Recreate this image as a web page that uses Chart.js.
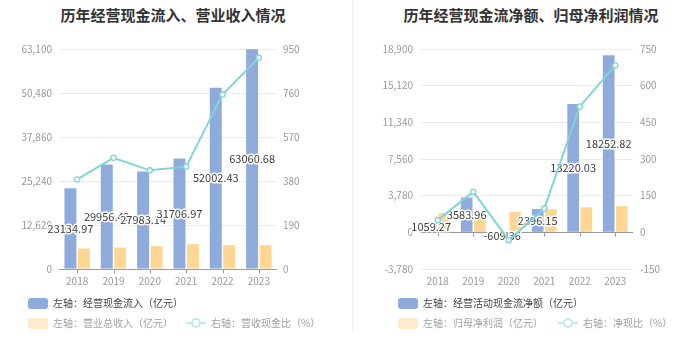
<!DOCTYPE html>
<html><head><meta charset="utf-8">
<script src="https://cdn.jsdelivr.net/npm/chart.js@4.4.1/dist/chart.umd.min.js"></script>
<style>
body{margin:0;width:700px;height:360px;background:#fff;position:relative;overflow:hidden;font-family:"Noto Sans CJK SC",sans-serif;}
.title{position:absolute;top:5px;font-size:15px;font-weight:bold;color:#333;text-align:center;white-space:nowrap;line-height:20px;}
canvas{position:absolute;top:0;}
.sep{position:absolute;left:352px;top:0;width:1px;height:333px;background:#eee;}
.lg{position:absolute;font-size:10px;line-height:12px;height:12px;white-space:nowrap;display:flex;align-items:center;}
.sw{display:inline-block;width:20px;height:11px;border-radius:3px;margin-right:5px;}
.ls{display:inline-block;width:20px;height:12px;margin-right:5px;}
</style>
</head><body>
<div class="title" style="left:0;width:346px;">历年经营现金流入、营业收入情况</div>
<div class="title" style="left:356px;width:350px;">历年经营现金流净额、归母净利润情况</div>
<div class="sep"></div>
<canvas id="c1" width="352" height="300" style="left:0"></canvas>
<canvas id="c2" width="348" height="300" style="left:352px"></canvas>

<div class="lg" style="left:28px;top:297px;color:#444"><span class="sw" style="background:#8eabdb"></span>左轴：经营现金流入（亿元）</div>
<div class="lg" style="left:28px;top:317px;color:#a0a0a0"><span class="sw" style="background:#feebcd"></span>左轴：营业总收入（亿元）
 <svg class="ls" style="margin-left:13px" width="20" height="12"><line x1="0" y1="6" x2="20" y2="6" stroke="#bfe9eb" stroke-width="2"/><circle cx="10" cy="6" r="4" fill="#fff" stroke="#bfe9eb" stroke-width="2"/></svg>右轴：营收现金比（%）</div>

<div class="lg" style="left:398px;top:297px;color:#444"><span class="sw" style="background:#8eabdb"></span>左轴：经营活动现金流净额（亿元）</div>
<div class="lg" style="left:398px;top:317px;color:#a0a0a0"><span class="sw" style="background:#feebcd"></span>左轴：归母净利润（亿元）
 <svg class="ls" style="margin-left:15px" width="20" height="12"><line x1="0" y1="6" x2="20" y2="6" stroke="#bfe9eb" stroke-width="2"/><circle cx="10" cy="6" r="4" fill="#fff" stroke="#bfe9eb" stroke-width="2"/></svg>右轴：净现比（%）</div>

<script>
// ---- data ----
const years = ['2018','2019','2020','2021','2022','2023'];
// left chart
const cashInflow = [23134.97, 29956.42, 27983.14, 31706.97, 52002.43, 63060.68];
const totalRevenue = [5875, 6165, 6550, 7130, 6840, 6840];
const cashRevenueRatio = [387, 480, 426, 442, 753, 912];
const leftTicks = [0, 12620, 25240, 37860, 50480, 63100];
const leftRightTicks = [0, 190, 380, 570, 760, 950];
// right chart
const netOperatingCash = [1059.27, 3583.96, -609.36, 2396.15, 13220.03, 18252.82];
const netProfit = [1995, 2050, 2120, 2380, 2590, 2695];
const netCashRatio = [50, 166, -32, 97, 515, 683];
const rightTicks = [-3780, 0, 3780, 7560, 11340, 15120, 18900];
const rightRightTicks = [-150, 0, 150, 300, 450, 600, 750];

Chart.defaults.font.family = '"Noto Sans CJK SC", sans-serif';
Chart.defaults.font.size = 10;

const BLUE = '#8eabdb', ORANGE = '#ffd693', CYAN = '#7fd5d8';

const labelPlugin = {
  id: 'barLabels',
  afterDatasetDraw(chart, args) {
    if (args.index !== 0) return;
    const meta = chart.getDatasetMeta(0);
    const data = chart.data.datasets[0].data;
    const ctx = chart.ctx;
    ctx.save();
    ctx.font = '11px "Noto Sans CJK SC", sans-serif';
    ctx.textAlign = 'center';
    ctx.textBaseline = 'middle';
    ctx.lineJoin = 'round';
    meta.data.forEach((el, i) => {
      const p = el.getProps(['x', 'y', 'base'], true);
      const t = data[i].toFixed(2);
      const cy = (p.y + p.base) / 2;
      ctx.lineWidth = 3;
      ctx.strokeStyle = '#fff';
      ctx.strokeText(t, p.x, cy);
      ctx.fillStyle = '#404040';
      ctx.fillText(t, p.x, cy);
    });
    ctx.restore();
  }
};

const axisPlugin = {
  id: 'zeroAxis',
  beforeDatasetsDraw(chart) {
    const { ctx, chartArea, scales } = chart;
    const x = scales.x, y = scales.y;
    const py = Math.round(y.getPixelForValue(0)) + 0.5;
    ctx.save();
    ctx.strokeStyle = '#9a9a9a';
    ctx.lineWidth = 1;
    ctx.beginPath();
    ctx.moveTo(chartArea.left, py);
    ctx.lineTo(chartArea.right, py);
    for (let i = 0; i < chart.data.labels.length; i++) {
      const px = Math.round(x.getPixelForValue(i)) + 0.5;
      ctx.moveTo(px, py);
      ctx.lineTo(px, py + 4);
    }
    ctx.stroke();
    ctx.restore();
  }
};

function makeChart(id, bars1, bars2, line, lt, rt, leftW, rightW, lPad, rPad) {
  const fmt = v => Number(v).toLocaleString('en-US');
  return new Chart(document.getElementById(id), {
    type: 'bar',
    data: {
      labels: years,
      datasets: [
        { data: bars1, backgroundColor: BLUE, yAxisID: 'y', order: 2,
          categoryPercentage: 0.74, barPercentage: 0.89 },
        { data: bars2, backgroundColor: ORANGE, yAxisID: 'y', order: 3,
          categoryPercentage: 0.74, barPercentage: 0.89 },
        { type: 'line', data: line, yAxisID: 'y1', order: 1,
          borderColor: CYAN, borderWidth: 2, tension: 0,
          pointRadius: 2.6, pointBorderWidth: 1.3, pointBackgroundColor: '#fff',
          pointBorderColor: CYAN }
      ]
    },
    options: {
      responsive: false, animation: false,
      layout: { padding: { top: 49, left: 0, right: 0, bottom: 0 } },
      plugins: { legend: { display: false }, tooltip: { enabled: false } },
      scales: {
        x: {
          grid: { display: false, drawTicks: false },
          border: { display: false },
          ticks: { color: '#999', padding: 6, font: { size: 10 } },
          afterFit: s => { s.height = 31; }
        },
        y: {
          position: 'left',
          min: lt[0], max: lt[lt.length - 1],
          afterBuildTicks: s => { s.ticks = lt.map(v => ({ value: v })); },
          grid: { color: '#e6ebf4', drawTicks: false },
          border: { display: false },
          ticks: { color: '#999', padding: lPad, callback: fmt, font: { size: 10 } },
          afterFit: s => { s.width = leftW; }
        },
        y1: {
          position: 'right',
          min: rt[0], max: rt[rt.length - 1],
          afterBuildTicks: s => { s.ticks = rt.map(v => ({ value: v })); },
          grid: { display: false, drawTicks: false },
          border: { display: false },
          ticks: { color: '#999', padding: rPad, callback: fmt, font: { size: 10 } },
          afterFit: s => { s.width = rightW; }
        }
      }
    },
    plugins: [axisPlugin, labelPlugin]
  });
}

makeChart('c1', cashInflow, totalRevenue, cashRevenueRatio, leftTicks, leftRightTicks, 59, 75, 7, 6);
makeChart('c2', netOperatingCash, netProfit, netCashRatio, rightTicks, rightRightTicks, 68, 67, 7, 7);
</script>
</body></html>
